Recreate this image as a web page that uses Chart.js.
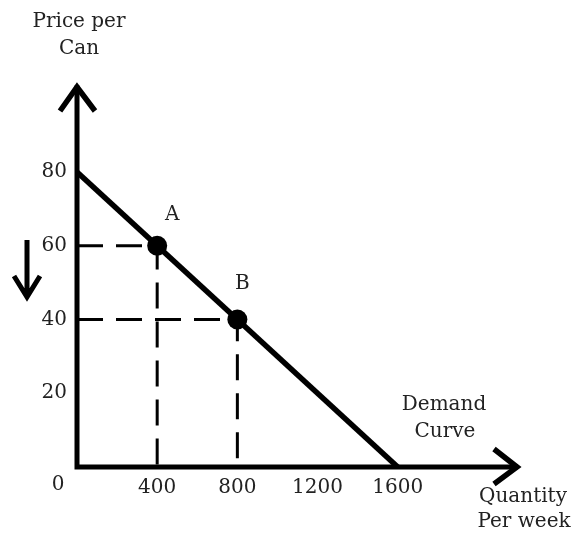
<!DOCTYPE html>
<html>
<head>
<meta charset="utf-8">
<script src="https://cdn.jsdelivr.net/npm/chart.js@4/dist/chart.umd.min.js"></script>
<style>
  html, body { margin: 0; padding: 0; background: #fff; }
  #wrap { width: 573px; height: 534px; position: relative; }
</style>
</head>
<body>
<div id="wrap"><canvas id="demandChart"></canvas></div>
<script>
// demand curve end points (quantity per week, price per can)
const demandQty = [0, 1600];
const demandPrice = [80, 0];

// the two marked points on the curve
const pointNames = ['A', 'B'];
const pointQty = [400, 800];
const pointPrice = [60, 40];

// tick labels
const xTicks = [400, 800, 1200, 1600];
const yTicks = [20, 40, 60, 80];

const FONT = '"DejaVu Serif", serif';
const TEXT = '#222';

function toXY(xs, ys) {
    return xs.map((x, i) => ({ x: x, y: ys[i] }));
}

// dashed guides: axis -> point -> axis
const guideSets = pointQty.map((q, i) => ({
    type: 'line',
    data: [{ x: 0, y: pointPrice[i] }, { x: q, y: pointPrice[i] }, { x: q, y: 0 }],
    borderColor: '#000',
    borderWidth: 3,
    borderDash: [26, 13],
    pointRadius: 0,
    fill: false,
    order: 3
}));

const sketchPlugin = {
    id: 'sketch',
    afterDraw(chart) {
        const ctx = chart.ctx;
        const xs = chart.scales.x;
        const ys = chart.scales.y;
        const ox = xs.getPixelForValue(0);
        const oy = ys.getPixelForValue(0);
        const top = chart.chartArea.top;
        const right = chart.chartArea.right;

        ctx.save();
        ctx.strokeStyle = '#000';
        ctx.lineWidth = 5;
        ctx.lineCap = 'square';
        ctx.lineJoin = 'miter';

        // axes
        ctx.beginPath();
        ctx.moveTo(ox, top + 3);
        ctx.lineTo(ox, oy);
        ctx.lineTo(right - 3, oy);
        ctx.stroke();

        ctx.lineCap = 'butt';
        ctx.lineWidth = 5.5;
        // arrow heads
        ctx.beginPath();
        ctx.moveTo(ox - 17, top + 26);
        ctx.lineTo(ox, top + 2);
        ctx.lineTo(ox + 18, top + 26);
        ctx.moveTo(right - 24, oy - 18);
        ctx.lineTo(right - 1, oy);
        ctx.lineTo(right - 24, oy + 17);
        ctx.stroke();

        // falling price arrow
        ctx.lineWidth = 5;
        ctx.beginPath();
        ctx.moveTo(27, 240);
        ctx.lineTo(27, 294);
        ctx.moveTo(14, 276);
        ctx.lineTo(27, 297);
        ctx.lineTo(40, 276);
        ctx.stroke();

        // texts
        ctx.fillStyle = TEXT;
        ctx.font = '20px ' + FONT;
        ctx.textAlign = 'center';
        ctx.textBaseline = 'middle';
        ctx.fillText('Price per', ox + 2, 22);
        ctx.fillText('Can', ox + 2, 49);
        ctx.fillText('0', ox - 19, oy + 18);
        ctx.fillText('Demand', 444, 405);
        ctx.fillText('Curve', 445, 432);
        ctx.fillText('Quantity', 523, 497);
        ctx.fillText('Per week', 524, 522);

        const offs = [[15, -31], [5, -36]];
        pointNames.forEach((n, i) => {
            const px = xs.getPixelForValue(pointQty[i]);
            const py = ys.getPixelForValue(pointPrice[i]);
            ctx.fillText(n, px + offs[i][0], py + offs[i][1]);
        });
        ctx.restore();
    }
};

new Chart(document.getElementById('demandChart'), {
    type: 'scatter',
    data: {
        datasets: [
            {
                type: 'line',
                label: 'Demand Curve',
                data: toXY(demandQty, demandPrice),
                borderColor: '#000',
                borderWidth: 5.5,
                pointRadius: 0,
                fill: false,
                order: 2
            },
            ...guideSets,
            {
                label: 'Points',
                data: toXY(pointQty, pointPrice),
                backgroundColor: '#000',
                borderColor: '#000',
                borderWidth: 0,
                pointRadius: 10,
                order: 1
            }
        ]
    },
    options: {
        responsive: true,
        maintainAspectRatio: false,
        animation: false,
        layout: { padding: { top: 85, right: 55, left: 0, bottom: 0 } },
        plugins: {
            legend: { display: false },
            tooltip: { enabled: false }
        },
        scales: {
            x: {
                type: 'linear',
                min: 0,
                max: 2200,
                grid: { display: false, drawTicks: false },
                border: { display: false },
                afterBuildTicks: s => { s.ticks = xTicks.map(v => ({ value: v })); },
                afterFit: s => { s.height = 67; },
                ticks: {
                    autoSkip: false,
                    maxRotation: 0,
                    padding: 9,
                    color: TEXT,
                    font: { family: FONT, size: 20 },
                    callback: v => String(v)
                }
            },
            y: {
                type: 'linear',
                min: 0,
                max: 103.6,
                grid: { display: false, drawTicks: false },
                border: { display: false },
                afterBuildTicks: s => { s.ticks = yTicks.map(v => ({ value: v })); },
                afterFit: s => { s.width = 77; },
                ticks: {
                    padding: 10,
                    color: TEXT,
                    font: { family: FONT, size: 20 },
                    callback: v => String(v)
                }
            }
        }
    },
    plugins: [sketchPlugin]
});
</script>
</body>
</html>
